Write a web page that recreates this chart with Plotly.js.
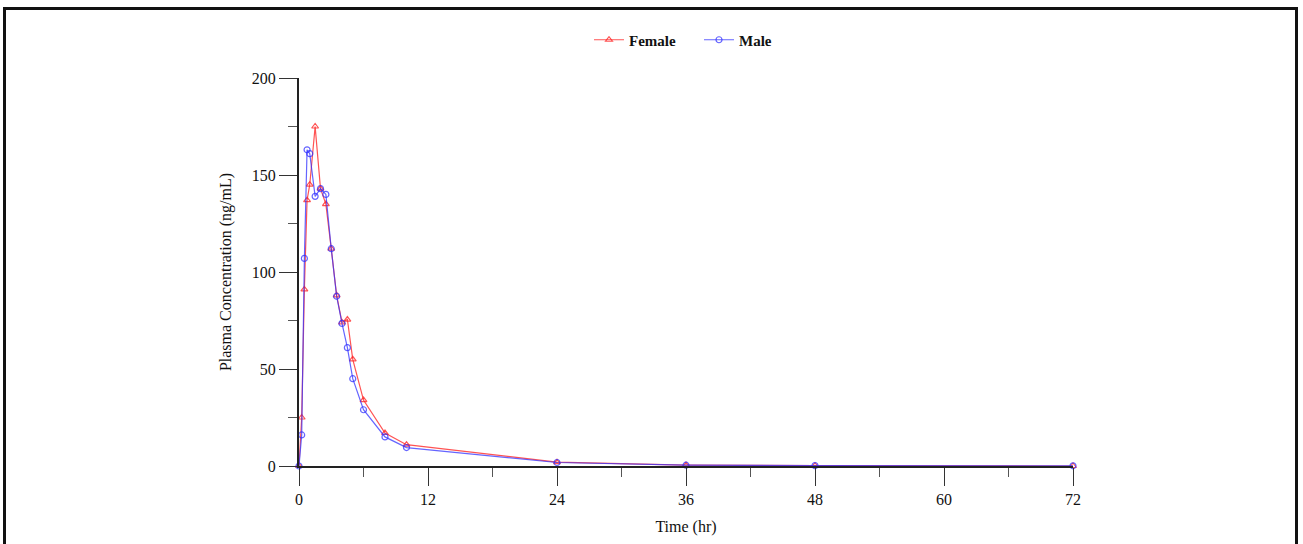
<!DOCTYPE html>
<html>
<head>
<meta charset="utf-8">
<script src="https://cdn.plot.ly/plotly-3.0.1.min.js"></script>
<style>
  html, body { margin: 0; padding: 0; background: #fff; }
  #wrap { position: relative; width: 1303px; height: 544px; }
  #chart { width: 1303px; height: 544px; }
  #frame { position: absolute; left: 3px; top: 7px; width: 1295px; height: 537px;
           border-top: 3px solid #111; border-left: 3px solid #111; border-right: 3px solid #111;
           box-sizing: border-box; pointer-events: none; }
</style>
</head>
<body>
<div id="wrap">
  <div id="chart"></div>
  <div id="frame"></div>
</div>
<script>
// Time points (hr)
const timeFemale = [0, 0.25, 0.5, 0.75, 1, 1.5, 2, 2.5, 3, 3.5, 4, 4.5, 5, 6, 8, 10, 24, 36, 48, 72];
const concFemale = [0, 25, 91, 137, 145, 175, 143, 135, 112, 88, 74, 75.5, 55, 34, 17, 11, 2, 0.5, 0.2, 0];

const timeMale = [0, 0.25, 0.5, 0.75, 1, 1.5, 2, 2.5, 3, 3.5, 4, 4.5, 5, 6, 8, 10, 24, 36, 48, 72];
const concMale = [0, 16, 107, 163, 161, 139, 143, 140, 112, 87.5, 73.5, 61, 45, 29, 15, 9.5, 1.8, 0.4, 0.2, 0.1];

const xTickVals = [0, 12, 24, 36, 48, 60, 72];
const yTickVals = [0, 50, 100, 150, 200];

const serif = '"Liberation Serif", "DejaVu Serif", serif';

const traces = [
  {
    x: timeFemale, y: concFemale, name: 'Female', type: 'scatter', mode: 'lines+markers',
    line: { color: 'rgba(255,40,40,0.8)', width: 1.2 },
    marker: { symbol: 'triangle-up-open', size: 6, color: 'rgba(255,40,40,0.8)', line: { width: 1.2 } },
    cliponaxis: false
  },
  {
    x: timeMale, y: concMale, name: 'Male', type: 'scatter', mode: 'lines+markers',
    line: { color: 'rgba(50,50,255,0.75)', width: 1.2 },
    marker: { symbol: 'circle-open', size: 6, color: 'rgba(50,50,255,0.75)', line: { width: 1.2 } },
    cliponaxis: false
  }
];

const layout = {
  width: 1303, height: 544,
  margin: { l: 299, r: 230, t: 78, b: 78 },
  paper_bgcolor: '#fff', plot_bgcolor: '#fff',
  font: { family: serif, size: 16, color: '#111' },
  showlegend: true,
  legend: {
    orientation: 'h', x: 0.5168, xanchor: 'center', y: 1.098, yanchor: 'middle',
    font: { family: serif, size: 15, color: '#111', weight: 'bold' },
    itemwidth: 30, entrywidth: 65, entrywidthmode: 'pixels'
  },
  xaxis: {
    range: [0, 72], tickvals: xTickVals, ticktext: xTickVals.map(String),
    ticks: 'outside', ticklen: 18, tickwidth: 1, tickcolor: '#333',
    minor: { dtick: 6, ticks: 'outside', ticklen: 9, tickwidth: 1, tickcolor: '#555' },
    showline: true, linecolor: '#222', linewidth: 2, showgrid: false, zeroline: false,
    tickfont: { family: serif, size: 16, color: '#111' },
    title: { text: 'Time (hr)', font: { family: serif, size: 16, color: '#111' }, standoff: 14 }
  },
  yaxis: {
    range: [0, 200], tickvals: yTickVals, ticktext: yTickVals.map(String),
    ticks: 'outside', ticklen: 18, tickwidth: 1, tickcolor: '#333',
    minor: { dtick: 25, ticks: 'outside', ticklen: 9, tickwidth: 1, tickcolor: '#555' },
    showline: true, linecolor: '#222', linewidth: 2, showgrid: false, zeroline: false,
    tickfont: { family: serif, size: 16, color: '#111' },
    title: { text: 'Plasma Concentration (ng/mL)', font: { family: serif, size: 16, color: '#111' }, standoff: 16 }
  }
};

Plotly.newPlot('chart', traces, layout, { displayModeBar: false, staticPlot: true });
</script>
</body>
</html>
